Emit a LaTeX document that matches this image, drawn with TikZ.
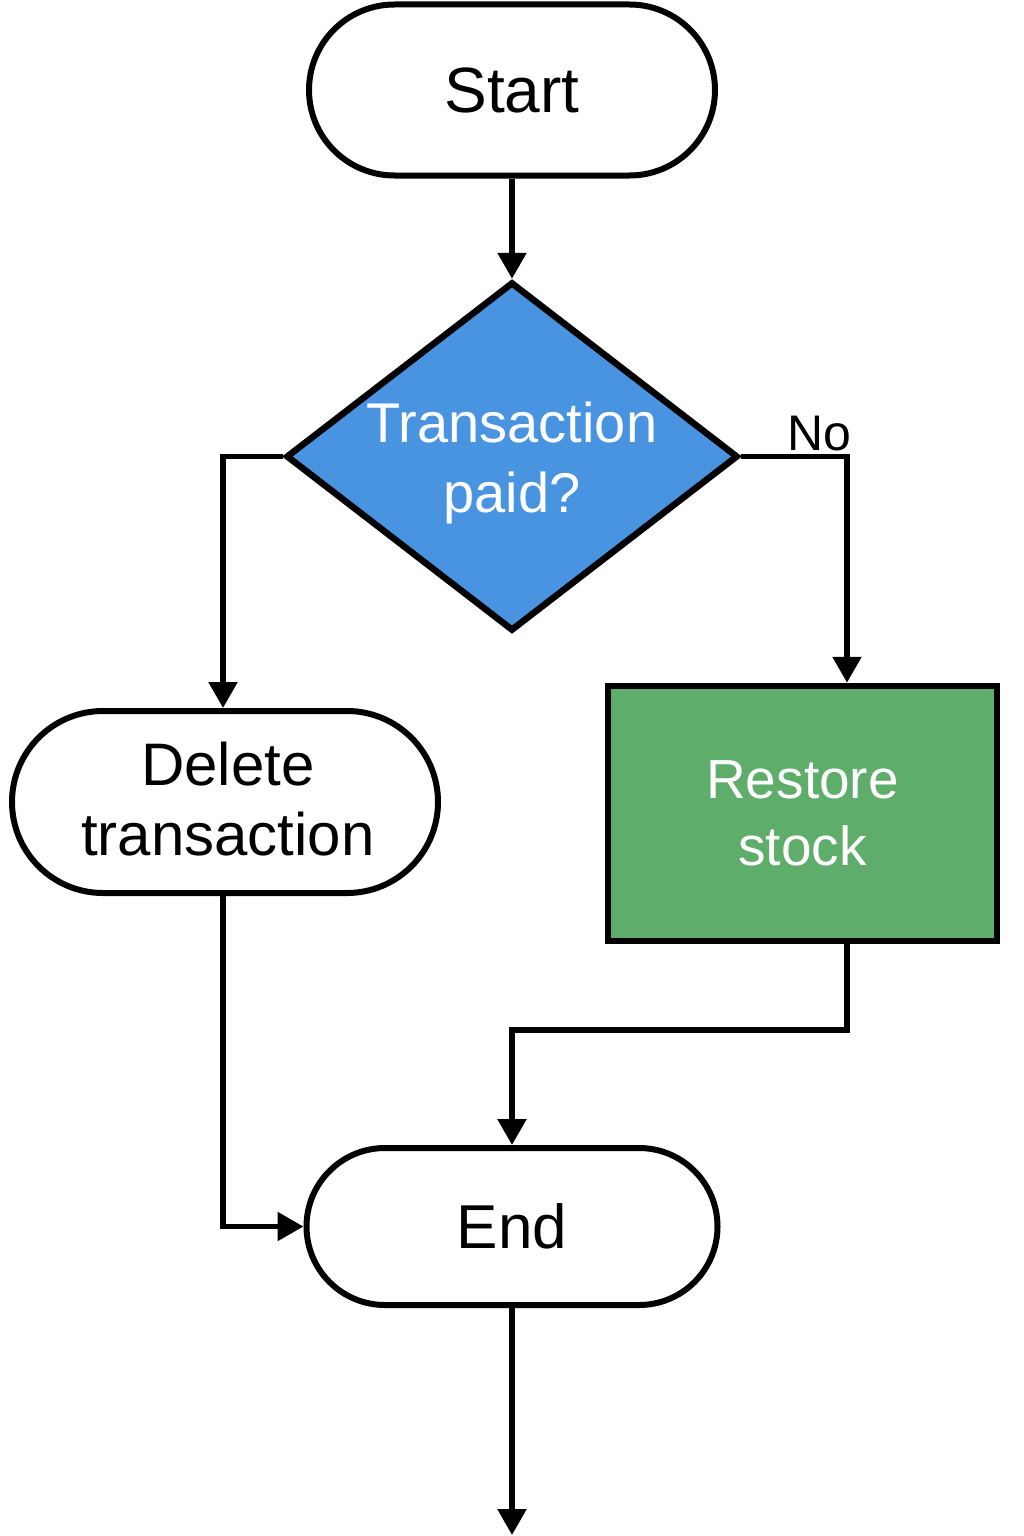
\documentclass[tikz,border=0pt]{standalone}
\usepackage{fontspec}
\setmainfont{Liberation Sans}
\usetikzlibrary{arrows.meta,shapes.geometric,shapes.misc}
\definecolor{dblue}{RGB}{73,148,224}
\definecolor{sgreen}{RGB}{94,173,107}
\begin{document}
\begin{tikzpicture}[x=1pt,y=-1pt,
  term/.style={shape=rounded rectangle,draw=black,line width=6pt,fill=white,inner sep=0pt,align=center},
  procbox/.style={shape=rectangle,draw=black,line width=6.5pt,fill=sgreen,inner sep=0pt,align=center,text=white},
  decbox/.style={shape=diamond,draw=black,line width=6.5pt,fill=dblue,inner sep=0pt},
  conn/.style={draw=black,line width=5.5pt,-{Triangle[width=28pt,length=26pt]}}
]
\useasboundingbox (0,0) rectangle (1024,1536);
\node[term,minimum width=406pt,minimum height=171pt,font=\fontsize{64}{70}\selectfont] (start) at (512,90) {Start};
\node[decbox,minimum width=452pt,minimum height=349pt] (dec) at (512,456.5) {};
\node[text=white,align=center,font=\fontsize{56}{70}\selectfont] (dtext) at (512,463) {Transaction\\paid?};
\node[term,minimum width=426pt,minimum height=182pt] (del) at (225,802) {};
\node[align=center,font=\fontsize{60}{70}\selectfont] (deltext) at (228,799) {Delete\\transaction};
\node[procbox,minimum width=389pt,minimum height=255pt,font=\fontsize{55}{67}\selectfont] (rest) at (802.5,813.5) {Restore\\stock};
\node[term,minimum width=411pt,minimum height=157pt,font=\fontsize{62}{70}\selectfont] (end) at (512,1226.5) {End};
\coordinate (m) at (847,1030);
\coordinate (bot) at (512,1535);
\draw[conn] (start.south) -- (dec.north);
\draw[conn] (dec.west) -| ([xshift=-2pt]del.north);
\draw[conn] (dec.east) -| ([xshift=44.5pt]rest.north);
\node[anchor=base,font=\fontsize{50}{56}\selectfont] (no) at (819,450) {No};
\draw[conn] ([xshift=44.5pt]rest.south) -- (m) -| (end.north);
\draw[conn] ([xshift=-2pt]del.south) |- (end.west);
\draw[conn] (end.south) -- (bot);
\end{tikzpicture}
\end{document}
